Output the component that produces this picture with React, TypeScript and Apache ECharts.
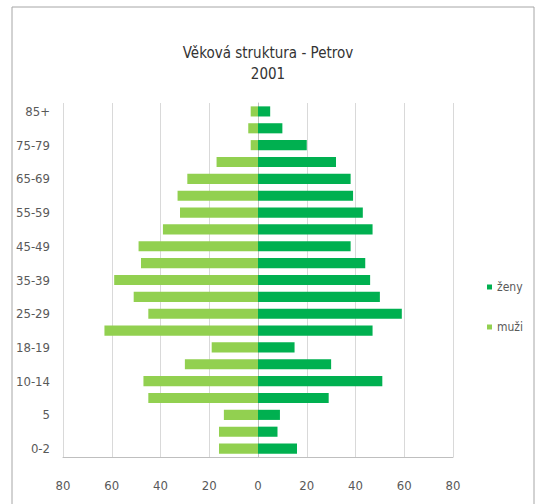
import React, { useEffect, useRef } from "react";
import * as echarts from "echarts";

const categories = ["0-2", "3-4", "5", "6-9", "10-14", "15-17", "18-19", "20-24", "25-29", "30-34", "35-39", "40-44", "45-49", "50-54", "55-59", "60-64", "65-69", "70-74", "75-79", "80-84", "85+"];
const muzi = [16, 16, 14, 45, 47, 30, 19, 63, 45, 51, 59, 48, 49, 39, 32, 33, 29, 17, 3, 4, 3];
const zeny = [16, 8, 9, 29, 51, 30, 15, 47, 59, 50, 46, 44, 38, 47, 43, 39, 38, 32, 20, 10, 5];
const titleText = "Věková struktura - Petrov";
const yearText = "2001";

const FONT = "'Liberation Sans Narrow', 'DejaVu Sans Condensed', sans-serif";

export default function App() {
  const ref = useRef<HTMLDivElement>(null);
  useEffect(() => {
    if (!ref.current) return;
    const chart = echarts.init(ref.current, undefined, { renderer: "svg" });
    chart.setOption({
      animation: false,
      backgroundColor: "#ffffff",
      textStyle: { fontFamily: FONT },
      graphic: [
        {
          type: "rect",
          shape: { x: 12, y: 7, width: 522, height: 520 },
          style: { fill: "none", stroke: "#a6a6a6", lineWidth: 1 },
          silent: true,
        },
      ],
      title: {
        text: titleText + "\n" + yearText,
        left: "center",
        top: 37,
        textStyle: { fontFamily: FONT, fontSize: 15, fontWeight: "normal", color: "#333333", lineHeight: 21 },
      },
      legend: {
        orient: "vertical",
        left: 482,
        top: 276,
        itemWidth: 5,
        itemHeight: 5,
        itemGap: 28,
        icon: "rect",
        data: ["ženy", "muži"],
        textStyle: { fontFamily: FONT, fontSize: 12, color: "#595959" },
      },
      grid: { left: 63, right: 83, top: 103, bottom: 47, containLabel: false },
      xAxis: {
        type: "value",
        min: -80,
        max: 80,
        interval: 20,
        axisLine: { show: true, lineStyle: { color: "#bfbfbf" } },
        axisTick: { show: false },
        axisLabel: {
          formatter: (v: number) => String(Math.abs(v)),
          color: "#595959",
          fontSize: 13,
          margin: 22,
          fontFamily: FONT,
        },
        splitLine: { show: true, lineStyle: { color: "#d9d9d9" } },
      },
      yAxis: {
        type: "category",
        data: categories,
        axisLine: { show: true, lineStyle: { color: "#bfbfbf" } },
        axisTick: { show: false },
        axisLabel: { interval: 1, color: "#595959", fontSize: 13, margin: 13, fontFamily: FONT },
      },
      series: [
        {
          name: "muži",
          type: "bar",
          data: muzi.map((v) => -v),
          itemStyle: { color: "#92D050" },
          barCategoryGap: "40%",
          barGap: "-100%",
        },
        {
          name: "ženy",
          type: "bar",
          data: zeny,
          itemStyle: { color: "#00B050" },
          barCategoryGap: "40%",
          barGap: "-100%",
        },
      ],
    });
    return () => chart.dispose();
  }, []);
  return <div ref={ref} style={{ position: "fixed", left: 0, top: 0, width: 536, height: 504 }} />;
}
